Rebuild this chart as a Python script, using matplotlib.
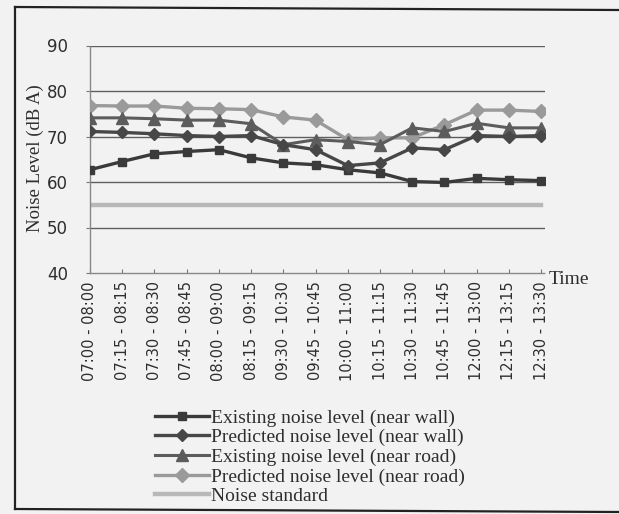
import matplotlib
matplotlib.use("Agg")
import matplotlib.pyplot as plt
from matplotlib.lines import Line2D

# data
times = ["07:00 - 08:00", "07:15 - 08:15", "07:30 - 08:30", "07:45 - 08:45",
         "08:00 - 09:00", "08:15 - 09:15", "09:30 - 10:30", "09:45 - 10:45",
         "10:00 - 11:00", "10:15 - 11:15", "10:30 - 11:30", "10:45 - 11:45",
         "12:00 - 13:00", "12:15 - 13:15", "12:30 - 13:30"]
existing_wall = [62.7, 64.5, 66.2, 66.7, 67.1, 65.3, 64.2, 63.8, 62.7, 62.0, 60.1, 59.9, 60.8, 60.5, 60.3]
predicted_wall = [71.1, 70.9, 70.6, 70.2, 70.0, 70.2, 68.2, 67.1, 63.6, 64.2, 67.5, 67.1, 70.2, 70.0, 70.2]
existing_road = [74.1, 74.1, 73.9, 73.6, 73.6, 72.8, 68.2, 69.3, 68.9, 68.2, 71.9, 71.1, 72.9, 71.9, 71.9]
predicted_road = [76.8, 76.7, 76.7, 76.2, 76.1, 75.9, 74.3, 73.6, 69.3, 69.7, 69.7, 72.6, 75.8, 75.8, 75.5]
noise_standard = [55] * len(times)

labels = ["Existing noise level (near wall)", "Predicted noise level (near wall)",
          "Existing noise level (near road)", "Predicted noise level (near road)",
          "Noise standard"]

bg = "#f2f2f2"
W, H = 619, 514
fig = plt.figure(figsize=(W / 100, H / 100), dpi=100, facecolor=bg)
ax = fig.add_axes([90 / W, 1 - 273 / H, (545 - 90) / W, (273 - 45.5) / H])
ax.set_facecolor(bg)

x = list(range(len(times)))
ax.plot(x, noise_standard, color="#b8b8b8", lw=3.2, label=labels[4], zorder=2)
ax.plot(x, existing_wall, color="#3a3a3a", lw=2.4, marker="s", ms=6, label=labels[0], zorder=5)
ax.plot(x, predicted_wall, color="#474747", lw=2.4, marker="D", ms=6, label=labels[1], zorder=5)
ax.plot(x, existing_road, color="#5c5c5c", lw=2.2, marker="^", ms=8, label=labels[2], zorder=4)
ax.plot(x, predicted_road, color="#9a9a9a", lw=2.4, marker="D", ms=7.5, label=labels[3], zorder=3)

ax.set_ylim(40, 90)
ax.set_xlim(0, 14.12)
ax.set_yticks([40, 50, 60, 70, 80, 90])
ax.set_xticks(x)
ax.set_xticklabels(times, rotation=90, fontsize=10.5, color="#2e2e2e", family="DejaVu Sans")
ax.tick_params(axis="y", labelsize=12, labelcolor="#2e2e2e", length=3, pad=13, color="#777777")
ax.tick_params(axis="x", direction="in", length=3, pad=6, color="#777777")
for t in ax.get_yticklabels():
    t.set_family("DejaVu Sans")

for v in [50, 60, 70, 80, 90]:
    ax.axhline(v, color="#5e5e5e", lw=1.0, zorder=1)

for s in ["top", "right"]:
    ax.spines[s].set_visible(False)
for s in ["left", "bottom"]:
    ax.spines[s].set_color("#888888")
    ax.spines[s].set_linestyle((0, (1, 1)))
    ax.spines[s].set_linewidth(1.0)

fig.text(35 / W, 1 - 158 / H, "Noise Level (dB A)", rotation=90, ha="center", va="center",
         fontsize=13.5, family="Liberation Serif", color="#2e2e2e")
fig.text(549 / W, 1 - 280 / H, "Time", ha="left", va="center",
         fontsize=14, family="Liberation Serif", color="#2e2e2e")

order = [1, 2, 3, 4, 0]
handles, labs = ax.get_legend_handles_labels()
leg = fig.legend([handles[i] for i in order], [labs[i] for i in order],
                 loc="upper left", bbox_to_anchor=(155 / W, 1 - 409 / H),
                 frameon=False, borderpad=0, borderaxespad=0, handlelength=2.8,
                 handletextpad=0.1, labelspacing=0.1,
                 prop={"family": "Liberation Serif", "size": 14})
for t in leg.get_texts():
    t.set_color("#2e2e2e")

# frame of the scanned figure
fig.add_artist(Line2D([15 / W, 15 / W], [1 - 7 / H, 1 - 509 / H], color="#222222", lw=1.6))
fig.add_artist(Line2D([15 / W, 1], [1 - 7 / H, 1 - 10 / H], color="#222222", lw=1.6))
fig.add_artist(Line2D([15 / W, 1], [1 - 509 / H, 1 - 512 / H], color="#222222", lw=1.6))

fig.savefig("out.png", dpi=100, facecolor=bg)
